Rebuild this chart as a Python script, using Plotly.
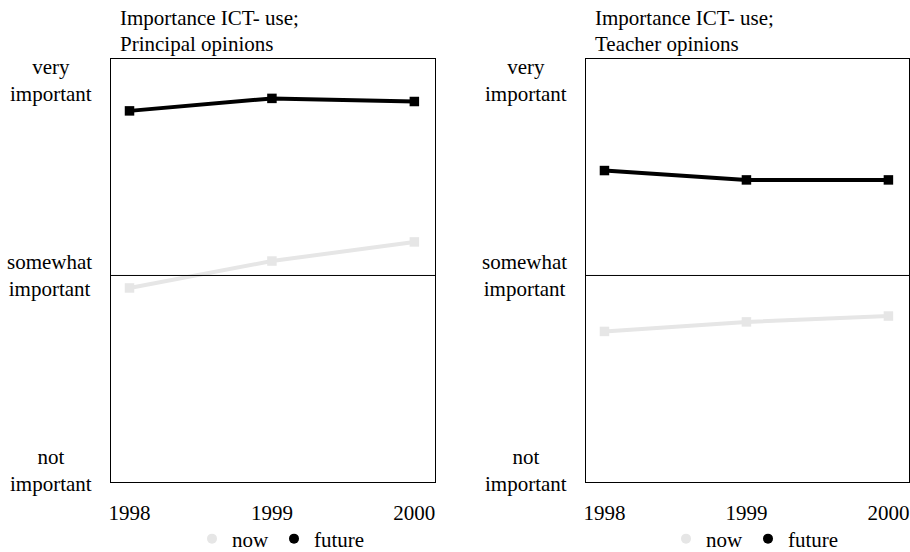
import plotly.graph_objects as go
from plotly.subplots import make_subplots

years = [1998, 1999, 2000]
principal_now = [1.936, 2.074, 2.172]
principal_future = [2.844, 2.908, 2.892]
teacher_now = [1.713, 1.762, 1.792]
teacher_future = [2.538, 2.49, 2.49]
level_values = [1, 2, 3]
level_labels = ["not<br>important", "somewhat<br>important", "very<br>important"]
title_lines = [["Importance ICT- use;", "Principal opinions"], ["Importance ICT- use;", "Teacher opinions"]]
series_names = ["now", "future"]
now_color = "#e6e6e6"
future_color = "#000000"

W, H = 910, 552
FONT = "Liberation Serif"
FS = 21

def px(x):
    return x / W

def py(y):
    return 1 - y / H

fig = make_subplots(rows=1, cols=2)

def add_panel(col, now_vals, fut_vals, legend_name):
    for vals, color, name in [(now_vals, now_color, series_names[0]), (fut_vals, future_color, series_names[1])]:
        fig.add_trace(go.Scatter(
            x=years, y=vals, mode="lines+markers",
            line=dict(color=color, width=4),
            marker=dict(symbol="square", size=9.5, color=color),
            showlegend=False, hoverinfo="skip"), row=1, col=col)
        fig.add_trace(go.Scatter(
            x=[None], y=[None], mode="markers", name=name,
            marker=dict(symbol="circle", size=10, color=color),
            legend=legend_name, showlegend=True), row=1, col=col)

add_panel(1, principal_now, principal_future, "legend")
add_panel(2, teacher_now, teacher_future, "legend2")

xdomains = [[px(111), px(435)], [px(586), px(909)]]
ydomain = [py(482), py(59)]
yrange = [0.941, 3.110]

for i, (xa, ya) in enumerate([("xaxis", "yaxis"), ("xaxis2", "yaxis2")]):
    fig.layout[xa].update(
        domain=xdomains[i], range=[1997.87, 2000.145],
        tickvals=years, ticktext=[str(y) for y in years],
        showline=True, linecolor="black", linewidth=1, mirror=True,
        showgrid=False, zeroline=False, ticks="", ticklabelstandoff=12,
        automargin=False,
        tickfont=dict(family=FONT, size=FS, color="black"))
    fig.layout[ya].update(
        domain=ydomain, range=yrange,
        showline=True, linecolor="black", linewidth=1, mirror=True,
        showgrid=False, zeroline=False, showticklabels=False, ticks="",
        automargin=False)

annotations = []
for i, (xr, yr) in enumerate([("x", "y"), ("x2", "y2")]):
    fig.add_shape(type="line", xref=f"{xr} domain", yref=yr, x0=0, x1=1,
                  y0=level_values[1], y1=level_values[1],
                  line=dict(color="black", width=1))
    for v, lab in zip(level_values, level_labels):
        annotations.append(dict(
            xref=f"{xr} domain", yref=yr, x=0, y=v, xanchor="right", yanchor="middle",
            xshift=-17, text=lab, showarrow=False, align="center",
            font=dict(family=FONT, size=FS, color="black")))
    for j, line in enumerate(title_lines[i]):
        annotations.append(dict(
            xref="paper", yref="paper", x=[px(118), px(593)][i], y=py([18, 44][j]),
            xanchor="left", yanchor="middle", text=line, showarrow=False, align="left",
            font=dict(family=FONT, size=FS, color="black")))

fig.update_layout(
    width=W, height=H,
    margin=dict(l=0, r=0, t=0, b=0, autoexpand=False),
    plot_bgcolor="white", paper_bgcolor="white",
    annotations=annotations,
    legend=dict(orientation="h", x=px(192), y=py(539), xanchor="left", yanchor="middle",
                font=dict(family=FONT, size=FS, color="black"), bgcolor="rgba(0,0,0,0)",
                itemwidth=30, tracegroupgap=0),
    legend2=dict(orientation="h", x=px(666), y=py(539), xanchor="left", yanchor="middle",
                 font=dict(family=FONT, size=FS, color="black"), bgcolor="rgba(0,0,0,0)",
                 itemwidth=30, tracegroupgap=0),
)

fig.write_html("out.html",
               config={"displayModeBar": False},
               post_script="document.body.style.margin='0';document.body.style.overflow='hidden';")
